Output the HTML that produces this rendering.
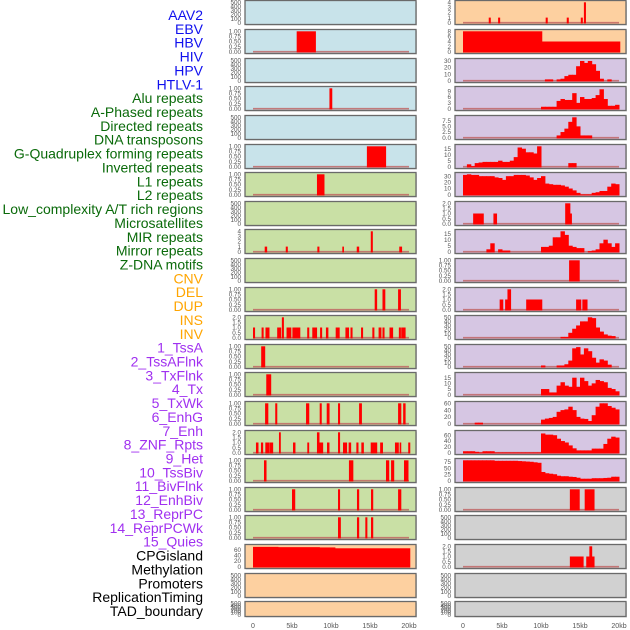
<!DOCTYPE html>
<html><head><meta charset="utf-8">
<style>
body{margin:0;background:#fff;width:630px;height:630px;overflow:hidden}
svg{display:block;font-family:"Liberation Sans",sans-serif}
</style></head>
<body>
<svg id="chart" width="630" height="630" viewBox="0 0 630 630"></svg>
<script>
// ---- track labels ----
const trackLabels = ["AAV2","EBV","HBV","HIV","HPV","HTLV-1","Alu repeats","A-Phased repeats","Directed repeats","DNA transposons","G-Quadruplex forming repeats","Inverted repeats","L1 repeats","L2 repeats","Low_complexity A/T rich regions","Microsatellites","MIR repeats","Mirror repeats","Z-DNA motifs","CNV","DEL","DUP","INS","INV","1_TssA","2_TssAFlnk","3_TxFlnk","4_Tx","5_TxWk","6_EnhG","7_Enh","8_ZNF_Rpts","9_Het","10_TssBiv","11_BivFlnk","12_EnhBiv","13_ReprPC","14_ReprPCWk","15_Quies","CPGisland","Methylation","Promoters","ReplicationTiming","TAD_boundary"];
const labelGroups = [0,0,0,0,0,0,1,1,1,1,1,1,1,1,1,1,1,1,1,2,2,2,2,2,3,3,3,3,3,3,3,3,3,3,3,3,3,3,3,4,4,4,4,4];
const xTickLabels = ["0","5kb","10kb","15kb","20kb"];
const xTickValues = [0,5,10,15,20];

// ---- tick label sets ----
const ticksEmpty = ["0","100","200","300","400","500"];
const ticksOne = ["0.00","0.25","0.50","0.75","1.00"];
const ticksTwo = ["0.0","0.5","1.0","1.5","2.0"];
const ticksFour = ["0","1","2","3","4"];

// ---- left column data: segments [startKb, endKb, value] ----
const left2 = [[5.6,8.0,1]];
const left4 = [[9.8,10.1,1]];
const left6 = [[14.6,17.0,1]];
const left7 = [[8.2,9.1,1]];
const left9 = [[1.5,1.75,1],[4.2,4.4,1],[8.25,8.45,1],[11.45,11.6,1],[13.3,13.55,1],[15.1,15.3,4],[18.75,19.05,1]];
const left11 = [[15.6,15.85,1],[16.6,16.9,1],[18.6,18.9,1]];
const left12 = [[0.0,0.2,1],[1.1,1.3,1],[1.6,2.05,1],[3.1,3.55,1],[3.7,3.9,2],[4.3,4.85,1],[5.05,6.0,1],[6.95,7.15,1],[7.6,8.15,1],[8.6,8.8,1],[9.35,9.6,1],[10.6,11.05,1],[11.85,12.25,1],[12.5,12.7,1],[13.85,14.05,1],[15.3,15.5,1],[16.1,16.4,1],[16.6,16.8,1],[17.5,17.9,1],[18.7,18.9,1],[19.0,19.5,1]];
const left13 = [[1.05,1.5,1]];
const left14 = [[1.7,2.27,1]];
const left15 = [[1.55,1.9,1],[2.85,3.05,1],[6.8,7.15,1],[8.55,8.75,1],[9.45,9.75,1],[10.9,11.1,1],[13.6,13.9,1],[18.6,18.95,1],[19.25,19.5,1]];
const left16 = [[0.38,0.64,1],[1.02,1.24,1],[1.58,2.0,1],[2.09,2.52,1],[3.33,3.5,2],[5.13,5.38,1],[6.96,7.14,1],[8.2,8.46,2],[8.46,8.93,1],[9.49,9.74,1],[10.9,11.1,2],[11.54,12.0,1],[12.26,12.52,1],[13.25,13.46,1],[13.89,14.15,1],[15.09,15.86,1],[16.3,16.6,1],[18.2,18.63,1],[18.8,18.9,1],[19.9,20.1,1]];
const left17 = [[1.41,1.67,1],[12.3,12.8,1],[17.05,17.4,1],[17.7,18.04,1],[19.36,19.87,1]];
const left18 = [[5.0,5.35,1],[10.9,11.1,1],[13.33,13.55,1],[15.13,15.35,1],[18.6,18.95,1]];
const left19 = [[10.9,11.2,1],[13.33,13.55,1],[14.4,14.6,1],[15.13,15.35,1]];
const left20 = [[0,3.2,70],[3.2,8.5,69],[8.5,10.5,68],[10.5,20.1,65]];

// ---- right column data ----
const right1 = [[3.3,3.5,1],[4.5,4.7,1],[10.6,10.8,1],[13.3,13.5,1],[15.1,15.3,1],[15.5,15.7,4]];
const right2 = [[0,10.1,8],[10.1,20.1,4]];
// binned (0.5kb bins, 40 bins)
const right3 = [0,0,0,0,0,0,0,0,0,0,0,0,0,0,0,0,0,0,0,0,0,2,2,0,2,3,7,9,9,22,30,27,30,25,15,3,0,2,0,0];
const right4 = [0,0,0,0,0,0,0,0,0,0,0,0,0,0,0,0,0,0,0,0,1,1,1,1,4,5,4.5,4.5,8,3,6,5,5,5.5,7,10,5,1.5,1.5,2];
const right5 = [0,0,0,0,0,0,0,0,0,0,0,0,0,0,0,0,0,0,0,0,0,0,0,0,1,2.5,4,7,9,5,1,1,1,0,0,0,0,0,0,0];
const right6 = [0,2,0.5,3,3.5,4,4,4,4,5,4,4,5,8,16,15,12,12,11,17,0,0,0,0,0,0,0,3,3,0,0,0,0,0,0,0,0,0,0,0];
const right7 = [32,33,32,32,30,30,30,30,28,27,24,30,30,32,32,32,31,28,24,27,30,18,17,16,16,15,13,10,7,3,0.5,0.5,0.5,3,4,6,6,13,18,17];
const right8 = [[1.3,2.6,1],[3.9,4.3,1],[13.1,13.7,2],[13.7,13.9,1]];
const right9 = [0,0,0,0,0,0,2,7,0,2,1,1,0,0,0,0,0,0,0,0,4,4,5,12,12,17,14,5,4,3,3,0,0.5,1,2,7,10,7,4,7];
const right10 = [[13.6,14.9,1]];
const right11 = [[4.7,5.1,1],[5.4,5.7,1],[5.7,6.1,2],[8.1,10.1,1],[14.5,15.1,1],[15.3,15.9,1]];
const right12 = [0,0,0,0,0,0,0,0,0,0,0,0,0,0,0,0,0,0,0,0,0,0,0,0,0,2,2,12,22,30,40,40,50,48,25,15,8,5,4,0];
const right13 = [0,0,0,0,0,0,0,0,0,0,0,0,0,0,0,0,0,0,0,0,3,0,0,0,3,3,6,15,45,48,30,45,38,22,10,18,15,5,0,0];
const right14 = [0,0,0,0,0,0,0,0,0,0,0,0,0,0,0,0,0,0,0,0,5,5,2,2,8,11,8,7,15,7,15,12,8,10,13,12,11,6,5,3];
const right15 = [0,0,0,3,3,0,0,0,0,0,0,0,0,0,0,0,0,0,0,0,12,15,17,20,35,40,42,50,40,20,15,14,8,25,50,60,60,52,47,42];
const right16 = [5,5,5,3,1,5,5,5,1,1,1,1,1,1,1,1,1,1,1,1,66,62,62,60,48,40,35,25,15,8,8,8,8,14,14,14,30,48,55,52];
const right17 = [82,82,82,82,82,82,82,82,80,80,80,80,80,80,79,78,77,76,74,72,35,30,28,26,20,18,18,16,15,12,8,8,8,10,10,10,11,12,16,16];
const right18 = [[13.7,14.9,1],[15.6,16.8,1]];
const right20 = [[13.7,15.4,1],[15.8,16.8,1],[16.2,16.5,2]];

// ---- panel config ----
const rowTops = [0,29,58,86,115,144,172,201,229,258,287,315,344,372,401,430,458,487,515,544,573,601];
const BG = {blue:"#c8e3ea",green:"#c9e0a5",orange:"#fdd0a0",purple:"#d6c6e3",gray:"#d1d1d1"};
const leftPanels = [
 ["blue",500,ticksEmpty,null],["blue",1,ticksOne,left2],["blue",500,ticksEmpty,null],["blue",1,ticksOne,left4],
 ["blue",500,ticksEmpty,null],["blue",1,ticksOne,left6],["green",1,ticksOne,left7],["green",500,ticksEmpty,null],
 ["green",4,ticksFour,left9],["green",500,ticksEmpty,null],["green",1,ticksOne,left11],["green",2,ticksTwo,left12],
 ["green",1,ticksOne,left13],["green",1,ticksOne,left14],["green",1,ticksOne,left15],["green",2,ticksTwo,left16],
 ["green",1,ticksOne,left17],["green",1,ticksOne,left18],["green",1,ticksOne,left19],["orange",72,["0","20","40","60"],left20],
 ["orange",500,ticksEmpty,null],["orange",500,ticksEmpty,null]];
const rightPanels = [
 ["orange",4,ticksFour,right1],["orange",8,["0","2","4","6","8"],right2],["purple",31,["0","10","20","30"],right3],
 ["purple",10.5,["0","3","6","9"],right4],["purple",9,["0.0","2.5","5.0","7.5"],right5],["purple",17,["0","5","10","15"],right6],
 ["purple",33,["0","10","20","30"],right7],["purple",2,ticksTwo,right8],["purple",17,["0","5","10","15"],right9],
 ["purple",1,ticksOne,right10],["purple",2,ticksTwo,right11],["purple",50,["0","10","20","30","40","50"],right12],
 ["purple",50,["0","10","20","30","40","50"],right13],["purple",18,["0","5","10","15"],right14],["purple",60,["0","20","40","60"],right15],
 ["purple",70,["0","20","40","60"],right16],["purple",82,["0","25","50","75"],right17],["gray",1,ticksOne,right18],
 ["gray",500,ticksEmpty,null],["gray",2,ticksTwo,right20],["gray",500,ticksEmpty,null],["gray",500,ticksEmpty,null]];

const svg = document.getElementById('chart');
const NS = "http://www.w3.org/2000/svg";
function mk(tag, attrs, parent){const e=document.createElementNS(NS,tag);for(const k in attrs)e.setAttribute(k,attrs[k]);(parent||svg).appendChild(e);return e;}

// labels
const groupColors = ["#1010ee","#0a6a0a","#ffa500","#a030f0","#000000"];
trackLabels.forEach((t,i)=>{
  const el = mk('text',{x:203,y:20+i*13.86,'text-anchor':'end','font-size':14,fill:groupColors[labelGroups[i]]});
  el.textContent = t;
  
  
});

function drawPanel(cfg, row, x0, side){
  const [bg,ymax,ticks,data] = cfg;
  const top = rowTops[row]+0.5;
  const h = row===21 ? 15 : 24;
  const w = 171;
  const g = mk('g',{});
  
  
  mk('rect',{x:x0+1,y:top+1,width:w,height:h,fill:'#aaa',opacity:0.5},g);
  mk('rect',{x:x0,y:top,width:w,height:h,fill:BG[bg],stroke:'#6a6a6a','stroke-width':1.3},g);
  const xs = k => x0+8+k*7.8;
  const ys = v => top+h-1.8-(v/ymax)*(h-3.6);
  ticks.forEach((lab,i)=>{
    const v = ymax===500 ? i*100 : parseFloat(lab);
    const t = mk('text',{x:x0-4,y:ys(v)+2.2,'text-anchor':'end','font-size':6.3,fill:'#555'},g);
    t.textContent = lab;
    
    
  });
  if(!data) return;
  let segs = data;
  if(typeof data[0]==='number') segs = data.map((v,i)=>[i*0.5,(i+1)*0.5,v]);
  mk('line',{x1:xs(0),x2:xs(20),y1:ys(0),y2:ys(0),stroke:'#c06060','stroke-width':1.6,opacity:0.8},g);
  segs.forEach(s=>{
    if(s[2]<=0) return;
    const r = mk('rect',{x:xs(s[0]),y:ys(s[2]),width:Math.max(1.6,xs(s[1])-xs(s[0])+0.5),height:ys(0)-ys(s[2])+0.8,fill:'#ff0000'},g);
    
    
  });
}
leftPanels.forEach((c,i)=>drawPanel(c,i,245,'left'));
rightPanels.forEach((c,i)=>drawPanel(c,i,455,'right'));

// x axes
[245,455].forEach(x0=>{
  xTickValues.forEach((v,i)=>{
    const t = mk('text',{x:x0+8+v*7.8,y:628,'text-anchor':'middle','font-size':7,fill:'#555'});
    t.textContent = xTickLabels[i];
    
    
  });
});
</script>
</body></html>
